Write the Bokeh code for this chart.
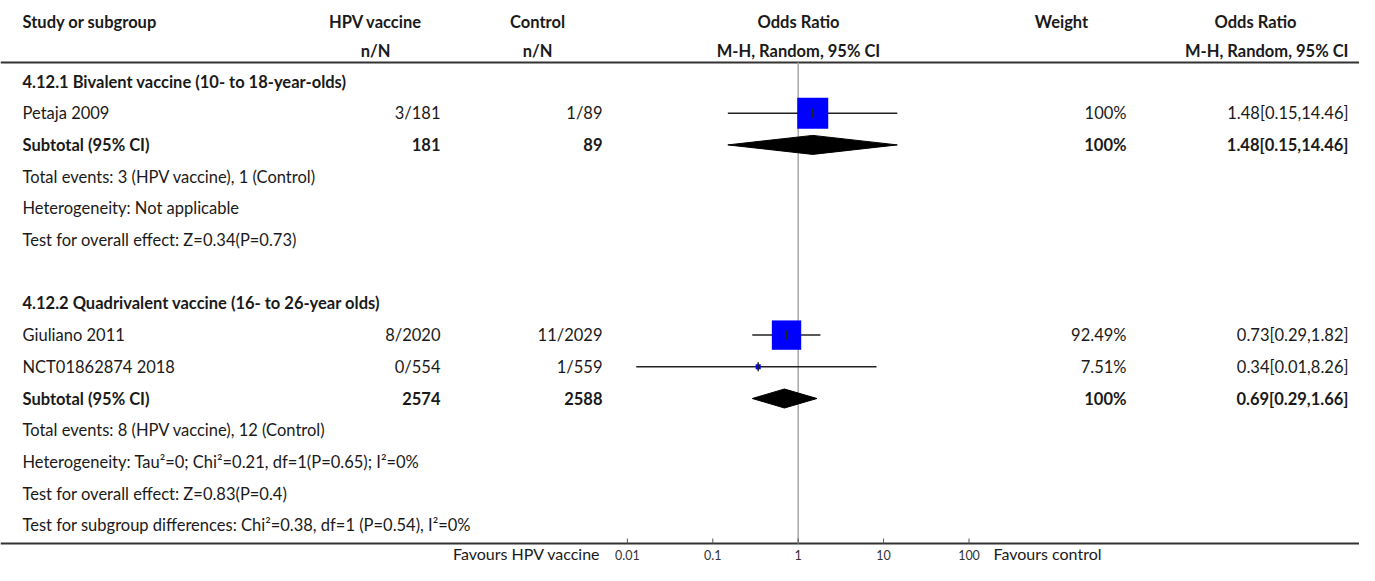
import math
from bokeh.plotting import figure
from bokeh.models import Range1d, LinearScale, ColumnDataSource
from bokeh.core.properties import value
from bokeh.embed import file_html
from bokeh.resources import INLINE

# ---------------- data ----------------
header1 = ["Study or subgroup", "HPV vaccine", "Control", "Odds Ratio", "Weight", "Odds Ratio"]
header2 = ["n/N", "n/N", "M-H, Random, 95% CI", "M-H, Random, 95% CI"]

group_titles = ["4.12.1 Bivalent vaccine (10- to 18-year-olds)",
                "4.12.2 Quadrivalent vaccine (16- to 26-year olds)"]
group_rows = [0, 7]

studies = ["Petaja 2009", "Giuliano 2011", "NCT01862874 2018"]
study_rows = [1, 8, 9]
hpv_nN = ["3/181", "8/2020", "0/554"]
ctl_nN = ["1/89", "11/2029", "1/559"]
or_est = [1.48, 0.73, 0.34]
ci_lo = [0.15, 0.29, 0.0127]
ci_hi = [14.46, 1.82, 8.26]
weights = [100.0, 92.49, 7.51]
weight_labels = ["100%", "92.49%", "7.51%"]
or_labels = ["1.48[0.15,14.46]", "0.73[0.29,1.82]", "0.34[0.01,8.26]"]

sub_rows = [2, 10]
sub_hpv = ["181", "2574"]
sub_ctl = ["89", "2588"]
sub_est = [1.48, 0.69]
sub_lo = [0.15, 0.29]
sub_hi = [14.46, 1.66]
sub_weight = ["100%", "100%"]
sub_labels = ["1.48[0.15,14.46]", "0.69[0.29,1.66]"]

info_rows = [3, 4, 5, 11, 12, 13, 14]
info_texts = ["Total events: 3 (HPV vaccine), 1 (Control)",
              "Heterogeneity: Not applicable",
              "Test for overall effect: Z=0.34(P=0.73)",
              "Total events: 8 (HPV vaccine), 12 (Control)",
              "Heterogeneity: Tau\u00b2=0; Chi\u00b2=0.21, df=1(P=0.65); I\u00b2=0%",
              "Test for overall effect: Z=0.83(P=0.4)",
              "Test for subgroup differences: Chi\u00b2=0.38, df=1 (P=0.54), I\u00b2=0%"]

axis_ticks = [0.01, 0.1, 1, 10, 100]
axis_tick_labels = ["0.01", "0.1", "1", "10", "100"]
favours_left = "Favours HPV vaccine"
favours_right = "Favours control"

# ---------------- layout ----------------
W, H = 1359, 565
ROW0 = 81.0          # px from top of row 0
ROW_H = 31.7
def row_of(px):
    return (px - ROW0) / ROW_H
y_top = row_of(0)
y_bot = row_of(H)

X1 = 797.7           # px of OR = 1
DEC = 85.4           # px per decade
x_lo = 10 ** ((0 - X1) / DEC)
x_hi = 10 ** ((W - X1) / DEC)

FONT = value("Lato")
FS = "16.5px"
TXT = "#1a1a1a"

p = figure(width=W, height=H, x_axis_type="log", output_backend="svg",
           toolbar_location=None, x_range=Range1d(x_lo, x_hi),
           y_range=Range1d(y_bot, y_top), x_axis_location=None, y_axis_location=None,
           min_border_left=0, min_border_right=0, min_border_top=0,
           min_border_bottom=0)
p.extra_x_ranges = {"px": Range1d(0, W)}
p.extra_x_scales = {"px": LinearScale()}
p.grid.visible = False
p.outline_line_color = None
p.background_fill_color = "white"
p.border_fill_color = "white"

# ---------------- text helper ----------------
def txt(xs, ys, texts, align="left", bold=False, size=FS, color=TXT, rng="px"):
    src = ColumnDataSource(dict(x=xs, y=ys, t=texts))
    kw = dict(x_range_name=rng) if rng else {}
    p.text(x="x", y="y", text="t", source=src,
           text_align=align, text_baseline="middle", text_font=FONT,
           text_font_size=size, text_color=color,
           text_font_style="bold" if bold else "normal", **kw)

# header rule and bottom (axis) rule
hdr_line_y = row_of(62)
axis_y = row_of(543)
p.segment(x0=[0], x1=[W], y0=[hdr_line_y], y1=[hdr_line_y], x_range_name="px",
          line_color="#333333", line_width=2)
p.segment(x0=[0], x1=[W], y0=[axis_y], y1=[axis_y], x_range_name="px",
          line_color="#333333", line_width=2)

# reference line at OR = 1
p.segment(x0=[1], x1=[1], y0=[hdr_line_y], y1=[axis_y], line_color="#a8a8a8", line_width=1.5)

# log axis ticks and labels (positioned through the log x scale)
tick_top = row_of(538)
p.segment(x0=axis_ticks, x1=axis_ticks, y0=[axis_y] * 5, y1=[tick_top] * 5,
          line_color="#555555", line_width=1)
txt(axis_ticks, [row_of(554)] * 5, axis_tick_labels, "center", size="12.5px",
    color="#333333", rng=None)

COL_STUDY = 22
COL_HPV_R = 440
COL_HPV_C = 375
COL_CTL_R = 602
COL_CTL_C = 537
COL_OR_C = 798
COL_W_C = 1061
COL_W_R = 1126
COL_OR2_C = 1255
COL_OR2_R = 1348

h1y = row_of(21)
h2y = row_of(50)
txt([COL_STUDY], [h1y], header1[:1], "left", True)
txt([COL_HPV_C, COL_CTL_C, COL_OR_C, COL_W_C, COL_OR2_C], [h1y] * 5, header1[1:], "center", True)
txt([COL_HPV_C, COL_CTL_C, COL_OR_C], [h2y] * 3, header2[:3], "center", True)
txt([COL_OR2_R], [h2y], header2[3:], "right", True)

txt([COL_STUDY] * len(group_rows), group_rows, group_titles, "left", True)

txt([COL_STUDY] * 3, study_rows, studies)
txt([COL_HPV_R] * 3, study_rows, hpv_nN, "right")
txt([COL_CTL_R] * 3, study_rows, ctl_nN, "right")
txt([COL_W_R] * 3, study_rows, weight_labels, "right")
txt([COL_OR2_R] * 3, study_rows, or_labels, "right")

txt([COL_STUDY] * 2, sub_rows, ["Subtotal (95% CI)"] * 2, "left", True)
txt([COL_HPV_R] * 2, sub_rows, sub_hpv, "right", True)
txt([COL_CTL_R] * 2, sub_rows, sub_ctl, "right", True)
txt([COL_W_R] * 2, sub_rows, sub_weight, "right", True)
txt([COL_OR2_R] * 2, sub_rows, sub_labels, "right", True)

txt([COL_STUDY] * len(info_rows), info_rows, info_texts)

# favours labels beside the axis ticks
fav_y = row_of(553)
txt([600], [fav_y], [favours_left], "right", size="16px")
txt([993], [fav_y], [favours_right], "left", size="16px")

# ---------------- forest marks ----------------
p.segment(x0=ci_lo, x1=ci_hi, y0=study_rows, y1=study_rows, line_color="#222222", line_width=1.5)
sizes = [31 * (w / 100.0) ** 0.7 for w in weights]
p.scatter(x=or_est, y=study_rows, size=sizes, marker="square",
          fill_color="#0000ff", line_color=None)
p.scatter(x=or_est, y=study_rows, size=9, marker="dash", angle=math.pi / 2,
          line_color="#222222", line_width=1.5)

DH = 9.5 / ROW_H
xs = [[lo, e, hi, e] for lo, e, hi in zip(sub_lo, sub_est, sub_hi)]
ys = [[r, r - DH, r, r + DH] for r in sub_rows]
p.patches(xs=xs, ys=ys, fill_color="black", line_color="black", line_width=1)

open("out.html", "w").write(file_html(p, INLINE))
